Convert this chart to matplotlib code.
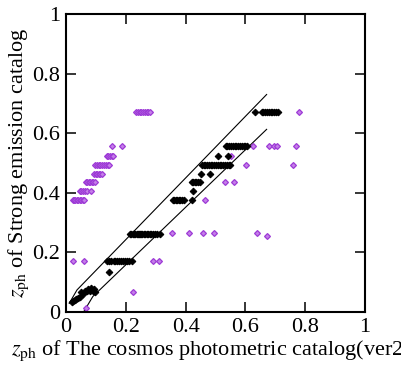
import numpy as np
import matplotlib.pyplot as plt

plt.rcParams['font.family'] = ['Liberation Serif', 'DejaVu Serif']
plt.rcParams['mathtext.fontset'] = 'stix'

# black points (inside the band)
blk_x = [0.019, 0.025, 0.030, 0.035, 0.040, 0.047, 0.052, 0.058,
         0.064, 0.070, 0.075, 0.080, 0.085, 0.090, 0.095, 0.098,
         0.143,
         0.137, 0.145, 0.152, 0.160, 0.165, 0.172, 0.178, 0.185, 0.190, 0.198, 0.205, 0.212, 0.220,
         0.214, 0.219, 0.223, 0.228, 0.232, 0.236, 0.240, 0.244, 0.248, 0.252, 0.256,
         0.260, 0.265, 0.270, 0.275, 0.280, 0.286, 0.292, 0.298, 0.305, 0.314,
         0.358, 0.363, 0.368, 0.373, 0.378, 0.383, 0.388, 0.394, 0.420,
         0.426,
         0.420, 0.425, 0.430, 0.436, 0.442, 0.448,
         0.450, 0.482,
         0.454, 0.460, 0.466, 0.472, 0.478, 0.484, 0.490, 0.496, 0.502,
         0.508, 0.514, 0.520, 0.526, 0.532, 0.538, 0.544, 0.549,
         0.510, 0.543,
         0.535, 0.540, 0.546, 0.552, 0.558, 0.564, 0.570, 0.576, 0.582, 0.588, 0.594, 0.600, 0.605,
         0.632, 0.654, 0.660, 0.666, 0.672, 0.678, 0.684, 0.690, 0.696, 0.702, 0.708]
blk_y = [0.035, 0.038, 0.040, 0.045, 0.047, 0.050, 0.068, 0.062,
         0.070, 0.070, 0.078, 0.070, 0.080, 0.072, 0.078, 0.068,
         0.135,
         0.172, 0.172, 0.172, 0.172, 0.172, 0.172, 0.172, 0.172, 0.172, 0.172, 0.172, 0.172, 0.172,
         0.262, 0.262, 0.262, 0.262, 0.262, 0.262, 0.262, 0.262, 0.262, 0.262, 0.262,
         0.262, 0.262, 0.262, 0.262, 0.262, 0.262, 0.262, 0.262, 0.262, 0.262,
         0.376, 0.376, 0.376, 0.376, 0.376, 0.376, 0.376, 0.376, 0.376,
         0.405,
         0.435, 0.435, 0.435, 0.435, 0.435, 0.435,
         0.463, 0.463,
         0.493, 0.493, 0.493, 0.493, 0.493, 0.493, 0.493, 0.493, 0.493,
         0.493, 0.493, 0.493, 0.493, 0.493, 0.493, 0.493, 0.493,
         0.524, 0.524,
         0.558, 0.558, 0.558, 0.558, 0.558, 0.558, 0.558, 0.558, 0.558, 0.558, 0.558, 0.558, 0.558,
         0.672, 0.672, 0.672, 0.672, 0.672, 0.672, 0.672, 0.672, 0.672, 0.672, 0.672]

# purple points (outliers)
pur_x = [0.234, 0.240, 0.246, 0.252, 0.258, 0.264, 0.270, 0.276, 0.281, 0.780,
         0.153, 0.188, 0.627, 0.679, 0.696, 0.705, 0.769,
         0.136, 0.142, 0.148, 0.153, 0.158, 0.551,
         0.097, 0.103, 0.109, 0.115, 0.121, 0.127, 0.133, 0.139, 0.145, 0.601, 0.760,
         0.095, 0.100, 0.105, 0.110, 0.115, 0.120,
         0.067, 0.072, 0.077, 0.082, 0.087, 0.092, 0.097, 0.532, 0.563,
         0.047, 0.052, 0.058, 0.063, 0.069, 0.083,
         0.022, 0.027, 0.032, 0.037, 0.042, 0.047, 0.052, 0.056, 0.060, 0.465,
         0.353, 0.411, 0.459, 0.496, 0.638, 0.671,
         0.025, 0.060, 0.290, 0.311,
         0.223, 0.067]
pur_y = [0.672, 0.672, 0.672, 0.672, 0.672, 0.672, 0.672, 0.672, 0.672, 0.672,
         0.558, 0.558, 0.558, 0.558, 0.558, 0.558, 0.558,
         0.523, 0.523, 0.523, 0.523, 0.523, 0.523,
         0.493, 0.493, 0.493, 0.493, 0.493, 0.493, 0.493, 0.493, 0.493, 0.493, 0.493,
         0.463, 0.463, 0.463, 0.463, 0.463, 0.463,
         0.435, 0.435, 0.435, 0.435, 0.435, 0.435, 0.435, 0.435, 0.435,
         0.406, 0.406, 0.406, 0.406, 0.406, 0.406,
         0.376, 0.376, 0.376, 0.376, 0.376, 0.376, 0.376, 0.376, 0.376, 0.376,
         0.264, 0.264, 0.264, 0.264, 0.264, 0.256,
         0.171, 0.171, 0.171, 0.171,
         0.067, 0.012]

# band edges
upper_x = [0.011, 0.037, 0.671]
upper_y = [0.029, 0.074, 0.730]
lower_x = [0.059, 0.090, 0.671]
lower_y = [0.000, 0.052, 0.613]

ticks = [0, 0.2, 0.4, 0.6, 0.8, 1]
tick_labels = ['0', '0.2', '0.4', '0.6', '0.8', '1']

fig = plt.figure(figsize=(4.02, 3.80), dpi=100)
ax = fig.add_axes([0.164, 0.179, 0.744, 0.784])

ax.plot(upper_x, upper_y, color='black', lw=0.8)
ax.plot(lower_x, lower_y, color='black', lw=0.8)
ax.plot(pur_x, pur_y, 'D', ms=3.0, mfc='#c47ee8', mec='#9d3ad6', mew=0.9, ls='none')
ax.plot(blk_x, blk_y, 'D', ms=3.4, mfc='black', mec='black', mew=0.7, ls='none')

ax.set_xlim(0, 1)
ax.set_ylim(0, 1)
ax.set_xticks(ticks)
ax.set_xticklabels(tick_labels)
ax.set_yticks(ticks)
ax.set_yticklabels(tick_labels)
ax.tick_params(direction='in', length=7, width=1.1, top=True, right=True,
               labelsize=16)
ax.tick_params(axis='x', pad=4)
ax.tick_params(axis='y', pad=4)
for s in ax.spines.values():
    s.set_linewidth(1.5)

ax.set_ylabel(r'$z_{\rm ph}$ of Strong emission catalog', fontsize=16, labelpad=1)
fig.text(0.027, 0.066, r'$z_{\rm ph}$ of The cosmos photometric catalog(ver2',
         fontsize=16, ha='left', va='baseline')

fig.savefig('out.png', dpi=100)
